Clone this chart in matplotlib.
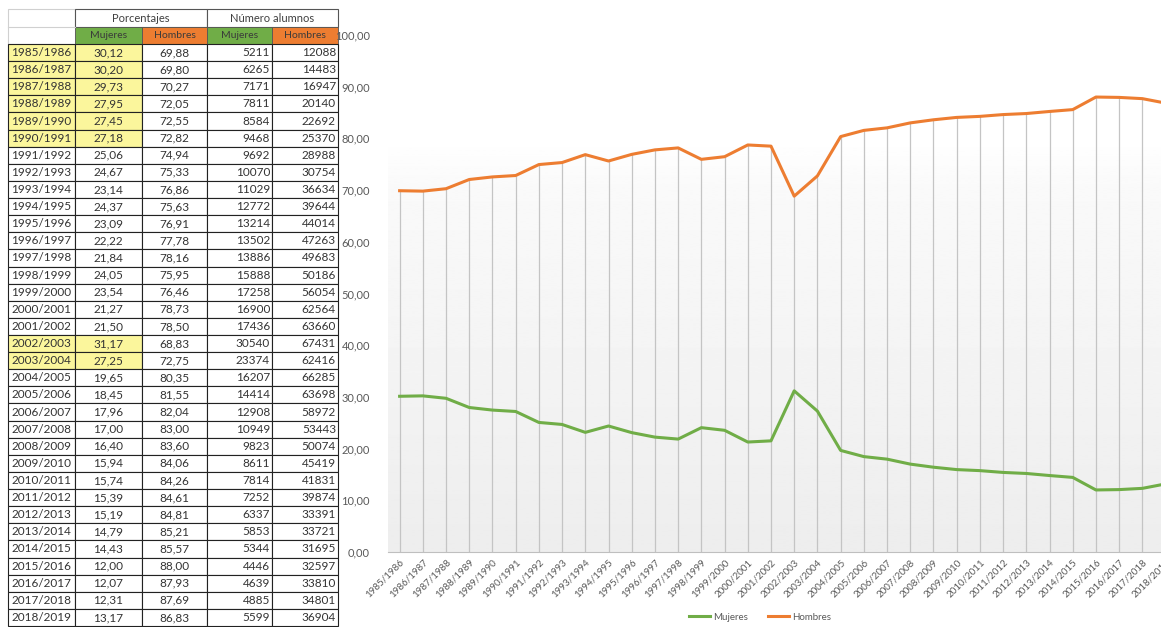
import numpy as np
import matplotlib
matplotlib.use('Agg')
import matplotlib.pyplot as plt
from matplotlib.patches import Rectangle

plt.rcParams['font.family'] = ['Lato', 'DejaVu Sans']

# datos (curso, porcentajes y numero de alumnos)
cursos = ['1985/1986', '1986/1987', '1987/1988', '1988/1989', '1989/1990', '1990/1991',
          '1991/1992', '1992/1993', '1993/1994', '1994/1995', '1995/1996', '1996/1997',
          '1997/1998', '1998/1999', '1999/2000', '2000/2001', '2001/2002', '2002/2003',
          '2003/2004', '2004/2005', '2005/2006', '2006/2007', '2007/2008', '2008/2009',
          '2009/2010', '2010/2011', '2011/2012', '2012/2013', '2013/2014', '2014/2015',
          '2015/2016', '2016/2017', '2017/2018', '2018/2019']
pct_mujeres = [30.12, 30.20, 29.73, 27.95, 27.45, 27.18, 25.06, 24.67, 23.14, 24.37,
               23.09, 22.22, 21.84, 24.05, 23.54, 21.27, 21.50, 31.17, 27.25, 19.65,
               18.45, 17.96, 17.00, 16.40, 15.94, 15.74, 15.39, 15.19, 14.79, 14.43,
               12.00, 12.07, 12.31, 13.17]
pct_hombres = [69.88, 69.80, 70.27, 72.05, 72.55, 72.82, 74.94, 75.33, 76.86, 75.63,
               76.91, 77.78, 78.16, 75.95, 76.46, 78.73, 78.50, 68.83, 72.75, 80.35,
               81.55, 82.04, 83.00, 83.60, 84.06, 84.26, 84.61, 84.81, 85.21, 85.57,
               88.00, 87.93, 87.69, 86.83]
n_mujeres = [5211, 6265, 7171, 7811, 8584, 9468, 9692, 10070, 11029, 12772, 13214, 13502,
             13886, 15888, 17258, 16900, 17436, 30540, 23374, 16207, 14414, 12908, 10949,
             9823, 8611, 7814, 7252, 6337, 5853, 5344, 4446, 4639, 4885, 5599]
n_hombres = [12088, 14483, 16947, 20140, 22692, 25370, 28988, 30754, 36634, 39644, 44014,
             47263, 49683, 50186, 56054, 62564, 63660, 67431, 62416, 66285, 63698, 58972,
             53443, 50074, 45419, 41831, 39874, 33391, 33721, 31695, 32597, 33810, 34801,
             36904]
resaltados = ['1985/1986', '1986/1987', '1987/1988', '1988/1989', '1989/1990',
              '1990/1991', '2002/2003', '2003/2004']

verde = '#70ad47'
naranja = '#ed7d31'
amarillo = '#fbf69c'
txt = '#333333'

W, H = 1161, 627
fig = plt.figure(figsize=(W / 100, H / 100), dpi=100)

# ---- tabla (coordenadas en pixeles) ----
tab = fig.add_axes([0, 0, 1, 1])
tab.set_xlim(0, W)
tab.set_ylim(H, 0)
tab.axis('off')

cols = [8, 75, 142, 207, 272, 338]
y0 = 44
rh = (626 - y0) / len(cursos)


def fmt(v):
    return ('%.2f' % v).replace('.', ',')


# cabecera
tab.add_patch(Rectangle((cols[0], 9), cols[1] - cols[0], y0 - 9, fc='white', ec='#d0d0d0', lw=0.8))
tab.plot([cols[0], cols[1]], [27, 27], color='#d0d0d0', lw=0.8)
for xa, xb, lab in [(cols[1], cols[3], 'Porcentajes'), (cols[3], cols[5], 'Número alumnos')]:
    tab.add_patch(Rectangle((xa, 9), xb - xa, 18, fc='white', ec='#555555', lw=0.8))
    tab.text((xa + xb) / 2, 18, lab, ha='center', va='center', fontsize=8, color='#404040')
for j, (c, lab) in enumerate([(verde, 'Mujeres'), (naranja, 'Hombres'), (verde, 'Mujeres'), (naranja, 'Hombres')]):
    xa, xb = cols[j + 1], cols[j + 2]
    tab.add_patch(Rectangle((xa, 27), xb - xa, y0 - 27, fc=c, ec='#555555', lw=0.6))
    tab.text((xa + xb) / 2, 35.5, lab, ha='center', va='center', fontsize=7.5, color='#3a3a3a')

for i, c in enumerate(cursos):
    yt = y0 + i * rh
    yc = yt + rh / 2
    fc = amarillo if c in resaltados else 'white'
    tab.add_patch(Rectangle((cols[0], yt), cols[1] - cols[0], rh, fc=fc, ec='#222222', lw=0.8))
    tab.add_patch(Rectangle((cols[1], yt), cols[2] - cols[1], rh, fc=fc, ec='#222222', lw=0.8))
    for j in range(2, 5):
        tab.add_patch(Rectangle((cols[j], yt), cols[j + 1] - cols[j], rh, fc='white', ec='#222222', lw=0.8))
    tab.text((cols[0] + cols[1]) / 2, yc, c, ha='center', va='center', fontsize=8.5, color=txt)
    tab.text((cols[1] + cols[2]) / 2, yc, fmt(pct_mujeres[i]), ha='center', va='center', fontsize=8.5, color=txt)
    tab.text((cols[2] + cols[3]) / 2, yc, fmt(pct_hombres[i]), ha='center', va='center', fontsize=8.5, color=txt)
    tab.text(cols[4] - 2, yc, str(n_mujeres[i]), ha='right', va='center', fontsize=8.5, color=txt)
    tab.text(cols[5] - 2, yc, str(n_hombres[i]), ha='right', va='center', fontsize=8.5, color=txt)

# ---- grafico ----
x = np.arange(len(cursos))
left_px, right_px = 388, 400 + 23.2 * 33.5
ax = fig.add_axes([left_px / W, (H - 552) / H, (right_px - left_px) / W, (552 - 35) / H])
ax.set_xlim(-0.5, 33.5)
ax.set_ylim(0, 100)

# fondo degradado del area de trazado, se funde con el blanco hacia ~80
yy = np.linspace(0, 100, 400)
grad = np.interp(yy, [0, 70, 80, 100], [0.93, 0.978, 1.0, 1.0]).reshape(-1, 1)
ax.imshow(grad, cmap='gray', vmin=0, vmax=1, extent=[-0.5, 33.5, 0, 100],
          origin='lower', aspect='auto', zorder=0)
ax.vlines(x, 0, pct_hombres, color='#c4c4c4', lw=0.9, zorder=1)

ax.plot(x, pct_mujeres, color=verde, lw=2.2, label='Mujeres', zorder=3)
ax.plot(x, pct_hombres, color=naranja, lw=2.2, label='Hombres', zorder=3)

for s in ['top', 'right', 'left']:
    ax.spines[s].set_visible(False)
ax.spines['bottom'].set_color('#bfbfbf')
ax.set_yticks(np.arange(0, 101, 10))
ax.set_yticklabels([fmt(v) for v in range(0, 101, 10)])
ax.tick_params(axis='y', length=0, pad=13, labelsize=8, labelcolor='#595959')
ax.set_xticks(x)
ax.set_xticklabels(cursos, rotation=45, ha='right', rotation_mode='anchor')
ax.tick_params(axis='x', length=0, pad=4, labelsize=7, labelcolor='#595959')

fig.legend(loc='center', bbox_to_anchor=(760 / W, 10 / H), ncol=2, frameon=False,
           fontsize=7, labelcolor='#595959', handlelength=2.2, handletextpad=0.3,
           columnspacing=2.0)

fig.savefig('out.png', dpi=100)
